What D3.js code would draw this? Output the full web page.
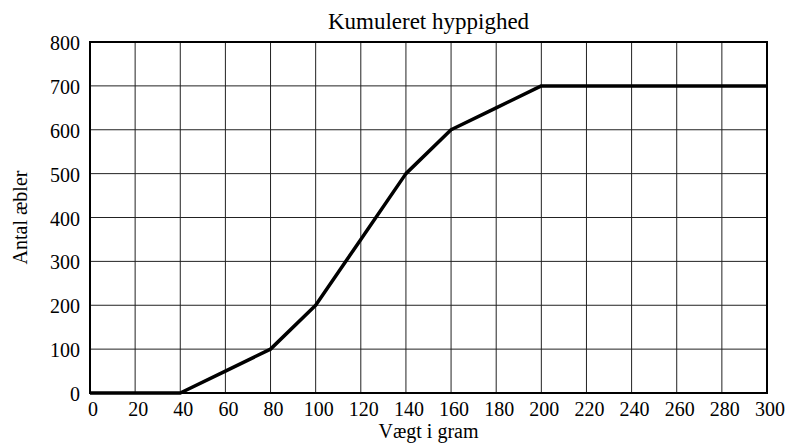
<!DOCTYPE html>
<html>
<head>
<meta charset="utf-8">
<script src="https://cdn.jsdelivr.net/npm/d3@7"></script>
<style>
  body { margin: 0; background: #fff; }
  svg { display: block; font-family: "Liberation Serif", "Times New Roman", serif; }
</style>
</head>
<body>
<div id="chart"></div>
<script>
// Cumulative frequency data
const weights = [0, 40, 60, 80, 100, 120, 140, 160, 180, 200, 300];
const cumulative = [0, 0, 50, 100, 200, 350, 500, 600, 650, 700, 700];
const xTicks = d3.range(0, 301, 20);
const yTicks = d3.range(0, 801, 100);

const width = 790;
const height = 448;
const margin = { top: 42, right: 23, bottom: 55, left: 90 };

const svg = d3
  .select("#chart")
  .append("svg")
  .attr("width", width)
  .attr("height", height);

const x = d3.scaleLinear().domain([0, 300]).range([margin.left, width - margin.right]);
const y = d3.scaleLinear().domain([0, 800]).range([height - margin.bottom, margin.top]);

// Grid
svg
  .append("g")
  .selectAll("line")
  .data(xTicks)
  .enter()
  .append("line")
  .attr("x1", (d) => x(d))
  .attr("x2", (d) => x(d))
  .attr("y1", y(0))
  .attr("y2", y(800))
  .attr("stroke", "#222")
  .attr("stroke-width", 1);

svg
  .append("g")
  .selectAll("line")
  .data(yTicks)
  .enter()
  .append("line")
  .attr("x1", x(0))
  .attr("x2", x(300))
  .attr("y1", (d) => y(d))
  .attr("y2", (d) => y(d))
  .attr("stroke", "#222")
  .attr("stroke-width", 1);

// Frame
svg
  .append("rect")
  .attr("x", x(0))
  .attr("y", y(800))
  .attr("width", x(300) - x(0))
  .attr("height", y(0) - y(800))
  .attr("fill", "none")
  .attr("stroke", "#000")
  .attr("stroke-width", 2);

// Tick labels
svg
  .append("g")
  .selectAll("text")
  .data(xTicks)
  .enter()
  .append("text")
  .attr("x", (d) => x(d) + 3)
  .attr("y", y(0) + 23)
  .attr("text-anchor", "middle")
  .attr("font-size", "20px")
  .text((d) => d);

svg
  .append("g")
  .selectAll("text")
  .data(yTicks)
  .enter()
  .append("text")
  .attr("x", x(0) - 10)
  .attr("y", (d) => y(d) + 8)
  .attr("text-anchor", "end")
  .attr("font-size", "20px")
  .text((d) => d);

// Curve
const line = d3
  .line()
  .x((d, i) => x(weights[i]))
  .y((d) => y(d));

svg
  .append("path")
  .datum(cumulative)
  .attr("d", line)
  .attr("fill", "none")
  .attr("stroke", "#000")
  .attr("stroke-width", 3.5)
  .attr("stroke-linejoin", "round");

// Titles
svg
  .append("text")
  .attr("x", (x(0) + x(300)) / 2)
  .attr("y", 29)
  .attr("text-anchor", "middle")
  .attr("font-size", "23px")
  .text("Kumuleret hyppighed");

svg
  .append("text")
  .attr("x", (x(0) + x(300)) / 2)
  .attr("y", 438)
  .attr("text-anchor", "middle")
  .attr("font-size", "20px")
  .text("Vægt i gram");

svg
  .append("text")
  .attr("transform", `translate(27, ${(y(0) + y(800)) / 2}) rotate(-90)`)
  .attr("text-anchor", "middle")
  .attr("font-size", "20px")
  .text("Antal æbler");
</script>
</body>
</html>
